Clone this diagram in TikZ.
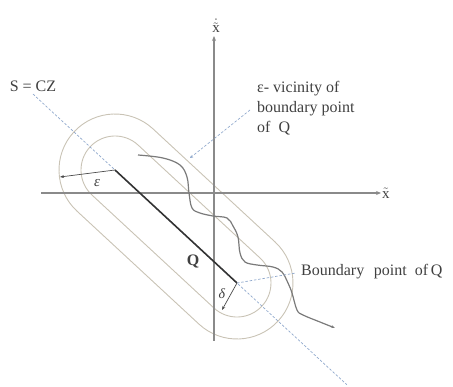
\documentclass[tikz,border=0pt]{standalone}
\usepackage{fontspec}
\setmainfont{Liberation Serif}
\usetikzlibrary{arrows.meta,calc}
\definecolor{axisgray}{HTML}{8A8A8A}
\definecolor{hullc}{HTML}{C9C3B5}
\definecolor{leaderblue}{HTML}{8FA8CC}
\definecolor{curvec}{HTML}{7A7A7A}
\tikzset{
  axisline/.style={axisgray,line width=1.1pt,-{Stealth[length=5pt,width=4pt]}},
  hull/.style={hullc,line width=0.9pt},
  leader/.style={leaderblue,line width=0.7pt,dash pattern=on 2.5pt off 1.8pt},
  lbl/.style={inner sep=1pt,font=\fontsize{16}{20}\selectfont,text=black!75},
  smallarrow/.style={black!70,line width=0.7pt,-{Stealth[length=4pt,width=3pt]}}
}
\begin{document}
\begin{tikzpicture}[x=1pt,y=1pt]
\useasboundingbox (0,0) rectangle (453,386);
% key points
\coordinate (A) at (115,216);
\coordinate (B) at (237,103);
% stadiums (epsilon and delta vicinities)
\begin{scope}[shift={(A)},rotate=-42.81]
  \draw[hull] (0,56) -- (166.3,56) arc[start angle=90,end angle=-90,radius=56] -- (0,-56) arc[start angle=270,end angle=90,radius=56] -- cycle;
  \draw[hull] (0,34) -- (166.3,34) arc[start angle=90,end angle=-90,radius=34] -- (0,-34) arc[start angle=270,end angle=90,radius=34] -- cycle;
\end{scope}
% line S = CZ
\coordinate (S1) at ($(A)!-0.672!(B)$);
\coordinate (S2) at ($(A)!1.90!(B)$);
\draw[leader] (S1) -- (S2);
\node[lbl] (slabel) at (33,300) {S = CZ};
% axes
\coordinate (xl) at (41,193);
\coordinate (xr) at (381,193);
\coordinate (yb) at (214,45);
\coordinate (yt) at (214,350);
\draw[axisline] (xl) -- (xr);
\draw[axisline] (yb) -- (yt);
\node[lbl,anchor=west,font=\fontsize{15}{18}\selectfont] (xlabel) at (xr) {$\tilde{\mathrm{x}}$};
\node[lbl,anchor=south,font=\fontsize{15}{18}\selectfont] (ylabel) at ($(yt)+(2,2)$) {$\dot{\tilde{\mathrm{x}}}$};
% segment Q
\draw[black!80,line width=1.6pt] (A) -- (B);
\node[lbl,font=\bfseries\fontsize{16}{20}\selectfont] (qlabel) at (193,124) {Q};
% trajectory
\draw[curvec,line width=1.2pt,-{Stealth[length=4pt,width=3pt]}] plot[smooth,tension=0.6] coordinates {
 (138,231) (163,228) (180,221) (187,209) (189,193) (192,178) (200,173) (213,170)
 (227,168) (233,160) (238,149) (240,133) (245,124) (257,121) (273,119) (282,114)
 (288,103) (292,93) (297,76) (303,71) (320,64) (335,58)};
% epsilon and delta radii
\coordinate (Eend) at (60,209);
\draw[smallarrow] (A) -- (Eend);
\node[lbl,font=\itshape\fontsize{15}{18}\selectfont] (elabel) at (97,203) {ε};
\coordinate (Dend) at (222,76);
\draw[smallarrow] (B) -- (Dend);
\node[lbl,font=\itshape\fontsize{14}{18}\selectfont] (dlabel) at (222,92) {δ};
% annotations
\node[lbl,anchor=north west,align=left] (vic) at (256,306) {ε- vicinity of\\boundary point\\of\ \ Q};
\coordinate (vicstart) at (250,276);
\coordinate (vicend) at (190,228);
\draw[leader,-{Stealth[length=3pt,width=3pt]}] (vicstart) -- (vicend);
\node[lbl,anchor=west] (bnd) at (300,114) {Boundary\hspace{0.6em}point\hspace{0.5em}of\,Q};
\coordinate (bstart) at (296,113);
\draw[leader] (B) -- (bstart);
\end{tikzpicture}
\end{document}
